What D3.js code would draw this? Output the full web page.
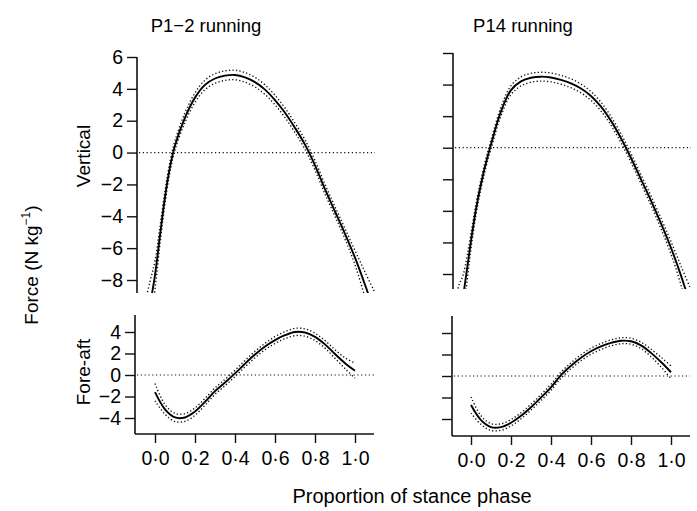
<!DOCTYPE html>
<html><head><meta charset="utf-8">
<script src="https://cdn.jsdelivr.net/npm/d3@7"></script>
<style>
body{margin:0;background:#fff}
svg{display:block}
text{font-family:"Liberation Sans",Arial,Helvetica,sans-serif;fill:#000}
</style>
</head><body>
<svg id="c" width="697" height="511"></svg>
<script>
// ---------- data ----------
const columnTitles = ["P1\u22122 running", "P14 running"];
const rowLabels = ["Vertical", "Fore-aft"];
const xTicks = [0, 0.2, 0.4, 0.6, 0.8, 1.0];
const verticalTicks = [6, 4, 2, 0, -2, -4, -6, -8];
const foreAftTicks = [4, 2, 0, -2, -4];

// Vertical force, P1-2
const vertP12X  = [-0.05,-0.025,0,0.025,0.05,0.075,0.1,0.15,0.2,0.25,0.3,0.35,0.4,0.45,0.5,0.55,0.6,0.65,0.7,0.75,0.8,0.85,0.9,0.95,1.0,1.05,1.1];
const vertP12   = [-11.6,-9.6,-7.7,-5.2,-2.8,-0.9,0.45,2.2,3.45,4.25,4.65,4.83,4.87,4.72,4.42,3.95,3.3,2.5,1.55,0.5,-0.8,-2.3,-3.7,-5.1,-6.6,-8.3,-10.1];
const vertP12CI = [2.2,1.5,0.9,0.55,0.4,0.33,0.3,0.3,0.3,0.3,0.3,0.3,0.3,0.3,0.3,0.3,0.3,0.3,0.3,0.3,0.3,0.3,0.3,0.33,0.45,0.8,1.3];

// Vertical force, P14
const vertP14X  = [-0.08,-0.06,-0.04,-0.02,0,0.025,0.05,0.075,0.1,0.15,0.2,0.25,0.3,0.35,0.4,0.45,0.5,0.55,0.6,0.65,0.7,0.75,0.8,0.85,0.9,0.95,1.0,1.05,1.1];
const vertP14   = [-13.6,-11.5,-9.5,-7.7,-5.9,-3.9,-2.3,-0.95,0.2,2.3,3.65,4.2,4.43,4.5,4.45,4.3,4.08,3.75,3.28,2.6,1.7,0.6,-0.65,-2.0,-3.35,-4.8,-6.35,-8.1,-10.1];
const vertP14CI = [3.8,2.8,1.4,0.8,0.5,0.35,0.3,0.28,0.28,0.28,0.28,0.28,0.28,0.28,0.28,0.28,0.28,0.28,0.28,0.28,0.28,0.28,0.28,0.28,0.3,0.33,0.4,0.6,1.1];

// Fore-aft force
const foreX     = [0,0.05,0.1,0.15,0.2,0.25,0.3,0.35,0.4,0.45,0.5,0.55,0.6,0.65,0.7,0.75,0.8,0.85,0.9,0.95,1.0];
const foreP12   = [-1.6,-3.2,-3.95,-3.95,-3.4,-2.5,-1.5,-0.7,0.15,1.05,1.9,2.65,3.25,3.7,4.0,3.95,3.55,2.85,1.95,1.1,0.4];
const foreP12CI = [0.8,0.45,0.38,0.36,0.34,0.32,0.3,0.3,0.3,0.3,0.3,0.3,0.32,0.33,0.34,0.34,0.34,0.35,0.4,0.5,0.7];
const foreP14   = [-2.7,-4.1,-4.75,-4.75,-4.35,-3.7,-2.9,-2.0,-1.05,0.08,0.95,1.7,2.3,2.75,3.08,3.28,3.23,2.85,2.15,1.3,0.35];
const foreP14CI = [0.75,0.4,0.32,0.3,0.3,0.28,0.28,0.28,0.28,0.28,0.28,0.28,0.28,0.28,0.28,0.28,0.28,0.3,0.35,0.45,0.6];

// ---------- layout ----------
const svg = d3.select("#c");
const FONT = '"Liberation Sans",Arial,Helvetica,sans-serif';
const panels = [
  {xs: vertP12X, ys: vertP12, ci: vertP12CI, axisX: 137, x0: 155, xR: 375, top: 57, bottom: 293, yDom: [6,-8], yRng: [57,280], ticks: verticalTicks, labels: true, xAxis: false},
  {xs: vertP14X, ys: vertP14, ci: vertP14CI, axisX: 453, x0: 471, xR: 691, top: 53, bottom: 289, yDom: [6,-8], yRng: [53,274], ticks: verticalTicks, labels: false, xAxis: false},
  {xs: foreX, ys: foreP12, ci: foreP12CI, axisX: 135, x0: 155, xR: 374, top: 315, bottom: 434, yDom: [4,-4], yRng: [332,418], ticks: foreAftTicks, labels: true, xAxis: true},
  {xs: foreX, ys: foreP14, ci: foreP14CI, axisX: 452, x0: 471, xR: 690, top: 316, bottom: 436, yDom: [4,-4], yRng: [333,419], ticks: foreAftTicks, labels: false, xAxis: true}
];

const defs = svg.append("defs");
const fmtX = d => d3.format(".1f")(d).replace(".", "\u00B7");
const fmtY = d => d < 0 ? "\u2212" + Math.abs(d) : String(d);

panels.forEach((p, i) => {
  const x = d3.scaleLinear().domain([0, 1]).range([p.x0, p.x0 + 200]);
  const y = d3.scaleLinear().domain(p.yDom).range(p.yRng);
  const g = svg.append("g");

  defs.append("clipPath").attr("id", "clip" + i)
    .append("rect").attr("x", p.axisX).attr("y", p.top - 20)
    .attr("width", p.xR - p.axisX).attr("height", p.bottom - p.top + 20);

  // y axis
  const ya = d3.axisLeft(y).tickValues(p.ticks).tickSize(10).tickPadding(4)
    .tickFormat(p.labels ? fmtY : () => "");
  const yg = g.append("g").attr("transform", `translate(${p.axisX},0)`).call(ya);
  yg.select(".domain").remove();
  yg.selectAll(".tick line").attr("stroke", "#111").attr("stroke-width", 1.4);
  yg.selectAll(".tick text").attr("font-size", 19.5).attr("fill", "#000")
    .style("font-family", FONT);
  g.append("line").attr("x1", p.axisX).attr("x2", p.axisX)
    .attr("y1", p.top).attr("y2", p.bottom)
    .attr("stroke", "#111").attr("stroke-width", 1.6);

  // x axis
  if (p.xAxis) {
    const xa = d3.axisBottom(x).tickValues(xTicks).tickSize(9).tickPadding(8).tickFormat(fmtX);
    const xg = g.append("g").attr("transform", `translate(0,${p.bottom})`).call(xa);
    xg.select(".domain").remove();
    xg.selectAll(".tick line").attr("stroke", "#111").attr("stroke-width", 1.4);
    xg.selectAll(".tick text").attr("font-size", 19.5).attr("fill", "#000")
      .style("font-family", FONT);
    g.append("line").attr("x1", p.axisX).attr("x2", p.xR)
      .attr("y1", p.bottom).attr("y2", p.bottom)
      .attr("stroke", "#111").attr("stroke-width", 1.6);
  }

  // zero line
  g.append("line").attr("x1", p.axisX + 2).attr("x2", p.xR)
    .attr("y1", y(0)).attr("y2", y(0))
    .attr("stroke", "#111").attr("stroke-width", 1.2)
    .attr("stroke-dasharray", "1.2,2.6");

  const plot = g.append("g").attr("clip-path", `url(#clip${i})`);
  const line = d3.line().x(d => x(d[0])).y(d => y(d[1])).curve(d3.curveCatmullRom.alpha(0.5));
  const mean = p.xs.map((v, k) => [v, p.ys[k]]);
  const upper = p.xs.map((v, k) => [v, p.ys[k] + p.ci[k]]);
  const lower = p.xs.map((v, k) => [v, p.ys[k] - p.ci[k]]);
  [upper, lower].forEach(d => {
    plot.append("path").datum(d).attr("d", line)
      .attr("fill", "none").attr("stroke", "#111").attr("stroke-width", 1.35)
      .attr("stroke-dasharray", "1.3,2.2");
  });
  plot.append("path").datum(mean).attr("d", line)
    .attr("fill", "none").attr("stroke", "#000").attr("stroke-width", 1.9);
});

// titles and labels
svg.append("text").attr("x", 206).attr("y", 32).attr("text-anchor", "middle")
  .attr("font-size", 18.5).text(columnTitles[0]);
svg.append("text").attr("x", 523).attr("y", 32).attr("text-anchor", "middle")
  .attr("font-size", 18.5).text(columnTitles[1]);

svg.append("text").attr("transform", "translate(90,156) rotate(-90)")
  .attr("text-anchor", "middle").attr("font-size", 19).text(rowLabels[0]);
svg.append("text").attr("transform", "translate(90,372) rotate(-90)")
  .attr("text-anchor", "middle").attr("font-size", 19).text(rowLabels[1]);

const fl = svg.append("text").attr("transform", "translate(38,265) rotate(-90)")
  .attr("text-anchor", "middle").attr("font-size", 19);
fl.append("tspan").text("Force (N kg");
fl.append("tspan").attr("font-size", 12).attr("dy", -8).text("\u22121");
fl.append("tspan").attr("dy", 8).text(")");

svg.append("text").attr("x", 412).attr("y", 503).attr("text-anchor", "middle")
  .attr("font-size", 20).text("Proportion of stance phase");
</script>
</body></html>
